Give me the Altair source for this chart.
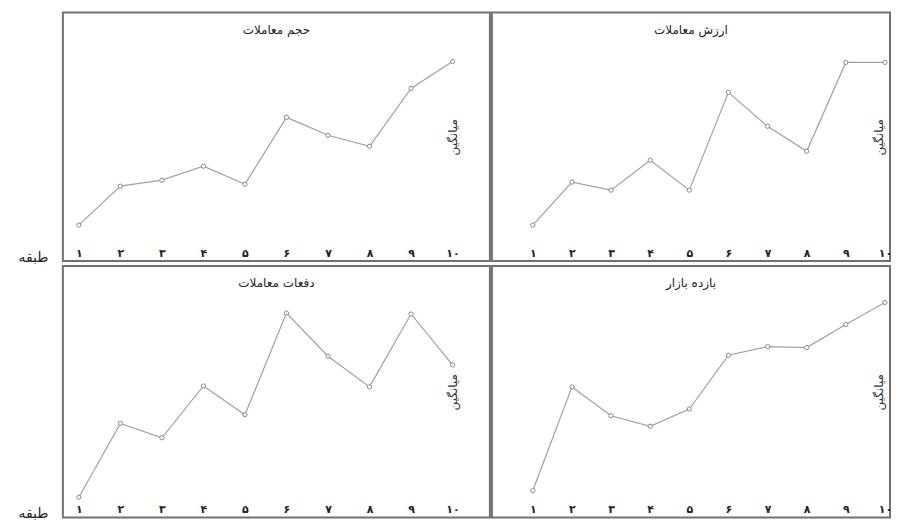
import altair as alt
import pandas as pd

FONT = "DejaVu Sans"

x_values = [1, 2, 3, 4, 5, 6, 7, 8, 9, 10]
x_labels = ["۱", "۲", "۳", "۴", "۵", "۶", "۷", "۸", "۹", "۱۰"]
x_title = "طبقه"
y_title = "میانگین"

title_volume = "حجم معاملات"
title_value = "ارزش معاملات"
title_count = "دفعات معاملات"
title_return = "بازده بازار"

volume = [36, 75, 81, 95, 77, 144, 126, 115, 173, 200]
value = [36, 79, 71, 101, 71, 169, 135, 110, 199, 199]
count = [21, 98, 83, 137, 107, 213, 168, 136, 212, 159]
market_return = [28, 136, 106, 95, 113, 169, 178, 177, 201, 224]

label_expr = "[" + ",".join(["''"] + [f"'{s}'" for s in x_labels]) + "][datum.value]"

LEFT_W, RIGHT_W = 428, 399
TOP_H, BOTTOM_H = 249, 252


def panel(vals, title, w, h, xdom, ydom, left):
    df = pd.DataFrame({"x": x_values, "y": vals})
    xaxis_kw = dict(
        values=x_values, labelExpr=label_expr, domain=False, ticks=False, grid=False,
        labelPadding=-3, labelBaseline="bottom", labelFontSize=11, labelFontWeight="bold",
        labelColor="#222", labelFont=FONT, labelOverlap=False,
    )
    if left:
        xaxis_kw.update(
            title=x_title, titleX=-30, titleY=-4, titleAlign="center", titleBaseline="middle",
            titleAngle=0, titleFontSize=14, titleFontWeight="normal", titleFont=FONT, titleColor="#222",
        )
    else:
        xaxis_kw.update(title="")
    yaxis = alt.Axis(
        orient="right", labels=False, ticks=False, domain=False, grid=False,
        title=y_title, titleAngle=270, titleX=-37 if left else -12, titleY=h / 2, titleAlign="center",
        titleBaseline="middle", titleFontSize=12, titleFontWeight="normal", titleFont=FONT,
        titleColor="#333",
    )
    base = alt.Chart(df).encode(
        x=alt.X("x:Q", scale=alt.Scale(domain=xdom, nice=False, zero=False), axis=alt.Axis(**xaxis_kw)),
        y=alt.Y("y:Q", scale=alt.Scale(domain=ydom, nice=False, zero=False), axis=yaxis),
    )
    line = base.mark_line(color="#a0a0a0", strokeWidth=1.2)
    pts = base.mark_point(shape="circle", filled=True, fill="white", stroke="#888888",
                          strokeWidth=1, size=18, opacity=1)
    return alt.layer(line, pts).properties(
        width=w, height=h,
        title=alt.Title(title, offset=-24, fontSize=12, fontWeight="normal", font=FONT,
                        color="#222", anchor="middle"),
    )


tl = panel(volume, title_volume, LEFT_W, TOP_H, [0.615, 10.9], [0, 249], True)
tr = panel(value, title_value, RIGHT_W, TOP_H, [-0.046, 10.13], [0, 249], False)
bl = panel(count, title_count, LEFT_W, BOTTOM_H, [0.615, 10.9], [0, 262], True)
br = panel(market_return, title_return, RIGHT_W, BOTTOM_H, [-0.046, 10.13], [0, 262], False)

chart = alt.vconcat(
    alt.hconcat(tl, tr, spacing=0),
    alt.hconcat(bl, br, spacing=0),
    spacing=0,
).properties(
    padding={"left": 9, "top": 3, "right": 0, "bottom": 0},
    background="white",
).configure_view(
    stroke="#707070", strokeWidth=2
).configure_concat(spacing=0)

chart.save("out.html", embed_options={"renderer": "svg", "actions": False})
